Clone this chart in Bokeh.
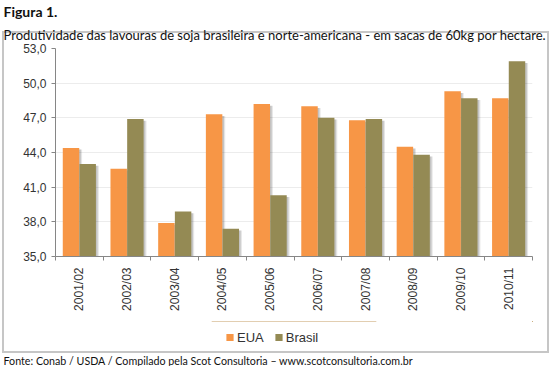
import math
from bokeh.plotting import figure
from bokeh.layouts import column
from bokeh.models import (Range1d, FixedTicker, Legend, LegendItem, Title,
                          ColumnDataSource, CustomJSTickFormatter)
from bokeh.transform import dodge
from bokeh.embed import file_html
from bokeh.resources import INLINE

# ---- data ----
seasons = ["2001/02", "2002/03", "2003/04", "2004/05", "2005/06",
           "2006/07", "2007/08", "2008/09", "2009/10", "2010/11"]
eua = [44.4, 42.6, 37.9, 47.3, 48.2, 48.0, 46.8, 44.5, 49.3, 48.7]
brasil = [43.0, 46.9, 38.9, 37.4, 40.3, 47.0, 46.9, 43.8, 48.7, 51.9]
y_ticks = [35, 38, 41, 44, 47, 50, 53]
series_names = ["EUA", "Brasil"]

fig_label = "Figura 1."
subtitle = "Produtividade das lavouras de soja brasileira e norte-americana - em sacas de 60kg por hectare."
source_note = "Fonte: Conab / USDA / Compilado pela Scot Consultoria \u2013 www.scotconsultoria.com.br"

ORANGE = "#F79646"
OLIVE = "#948A54"
TFONT = "Lato"
LBL_FONT = "Liberation Sans"
AX = "#868686"
BOX = "#c6c6c6"
W = 553
ML, MR = 55, 21


def box_lines(sizes, positions):
    g = f"linear-gradient({BOX},{BOX})"
    return {"background-image": ", ".join([g] * len(sizes)),
            "background-size": ", ".join(sizes),
            "background-position": ", ".join(positions),
            "background-repeat": "no-repeat"}


def bare(h, top, bottom, styles):
    f = figure(width=W, height=h, x_range=Range1d(0, 1), y_range=Range1d(0, 1),
               output_backend="svg", toolbar_location=None,
               x_axis_location=None, y_axis_location=None,
               min_border_left=ML, min_border_right=MR,
               min_border_top=top, min_border_bottom=bottom, styles=styles)
    f.grid.visible = False
    f.title.visible = False
    f.outline_line_color = None
    f.border_fill_color = None
    f.background_fill_color = None
    return f


# ---- main chart ----
pos = [i + 0.5 for i in range(len(seasons))]
src = ColumnDataSource(dict(pos=pos, eua=eua, brasil=brasil,
                            eua_s=[v - 0.15 for v in eua],
                            brasil_s=[v - 0.15 for v in brasil]))

p = figure(width=W, height=313, x_range=Range1d(0, len(seasons)),
           y_range=Range1d(y_ticks[0], y_ticks[-1]),
           output_backend="svg", toolbar_location=None,
           min_border_left=ML, min_border_right=MR,
           min_border_top=47, min_border_bottom=54,
           styles=box_lines(["547px 2px", "2px 282px", "2px 282px"],
                            ["2px 31px", "2px 31px", "547px 31px"]))
p.title.visible = False
p.outline_line_color = None
p.border_fill_color = None
p.background_fill_color = "white"

bw = 0.345
off = 0.175
for d, a in [(0.06, 0.10), (0.035, 0.14)]:
    p.vbar(x=dodge("pos", -off + d), top="eua_s", bottom=y_ticks[0], width=bw,
           source=src, fill_color="black", fill_alpha=a, line_color=None)
    p.vbar(x=dodge("pos", off + d), top="brasil_s", bottom=y_ticks[0], width=bw,
           source=src, fill_color="black", fill_alpha=a, line_color=None)

p.vbar(x=dodge("pos", -off), top="eua", bottom=y_ticks[0], width=bw,
       source=src, fill_color=ORANGE, line_color=None)
p.vbar(x=dodge("pos", off), top="brasil", bottom=y_ticks[0], width=bw,
       source=src, fill_color=OLIVE, line_color=None)

xa = p.xaxis[0]
xa.ticker = FixedTicker(ticks=pos, minor_ticks=list(range(len(seasons) + 1)))
xa.formatter = CustomJSTickFormatter(args=dict(labels=seasons),
                                     code="return labels[Math.floor(tick)];")
xa.major_label_orientation = math.pi / 2
xa.major_tick_line_color = None
xa.minor_tick_line_color = AX
xa.minor_tick_in = 0
xa.minor_tick_out = 4
xa.axis_line_color = AX
xa.major_label_standoff = 5
xa.major_label_text_font = LBL_FONT
xa.major_label_text_font_size = "12px"
xa.major_label_text_color = "#333333"

ya = p.yaxis[0]
ya.ticker = FixedTicker(ticks=y_ticks)
ya.formatter = CustomJSTickFormatter(code="return tick.toFixed(1).replace('.', ',');")
ya.axis_line_color = AX
ya.major_tick_line_color = AX
ya.major_tick_in = 0
ya.major_tick_out = 4
ya.minor_tick_line_color = None
ya.major_label_standoff = 5
ya.major_label_text_font = LBL_FONT
ya.major_label_text_font_size = "12px"
ya.major_label_text_color = "#333333"

p.xgrid.visible = False
p.ygrid.ticker = FixedTicker(ticks=y_ticks)
p.ygrid.grid_line_color = "#ececec"

p.add_layout(Title(text=subtitle, text_font=TFONT, text_font_size="13px",
                   text_font_style="normal", text_color="#111111",
                   align="left", offset=3 - ML, standoff=11), "above")
p.add_layout(Title(text=fig_label, text_font=TFONT, text_font_size="14px",
                   text_font_style="bold", text_color="#111111",
                   align="left", offset=3 - ML, standoff=0), "above")

# ---- legend strip (swatches come from bar renderers that lie outside this strip's view) ----
leg = bare(40, 8, 0, box_lines(["2px 40px", "2px 40px", "547px 2px"],
                               ["2px 0px", "547px 0px", "2px 38px"]))
d1 = leg.vbar(x="pos", top="eua", bottom=y_ticks[0], width=bw, source=src,
              fill_color=ORANGE, line_color=None)
d2 = leg.vbar(x="pos", top="brasil", bottom=y_ticks[0], width=bw, source=src,
              fill_color=OLIVE, line_color=None)
legend = Legend(items=[LegendItem(label=series_names[0], renderers=[d1], index=0),
                       LegendItem(label=series_names[1], renderers=[d2], index=0)],
                orientation="horizontal", location="left",
                glyph_width=9, glyph_height=9, label_text_font=LBL_FONT,
                label_text_font_size="13px", label_text_color="#333333",
                spacing=10, padding=3, margin=170, border_line_color=None,
                label_standoff=3, background_fill_alpha=0)
leg.add_layout(legend)

# ---- footer strip ----
foot = bare(13, 12, 0, {})
foot.add_layout(Title(text=source_note, text_font=TFONT, text_font_size="10.7px",
                      text_font_style="normal", text_color="#111111",
                      align="left", offset=3 - ML, standoff=0), "above")

layout = column(p, leg, foot, spacing=0)
open("out.html", "w").write(file_html(layout, INLINE))
